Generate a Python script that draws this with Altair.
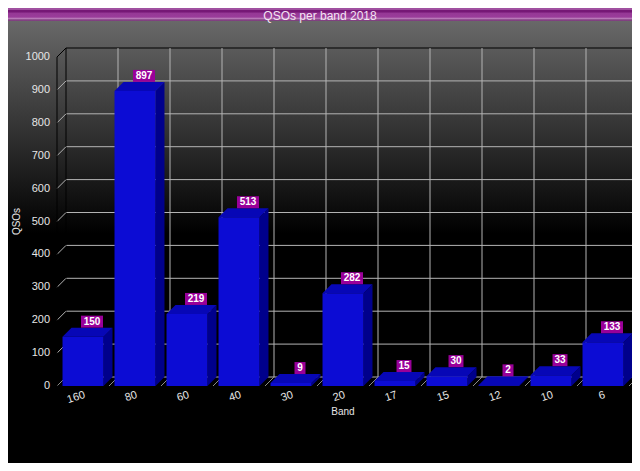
import altair as alt
import pandas as pd

# ---------------- data ----------------
BANDS = ["160", "80", "60", "40", "30", "20", "17", "15", "12", "10", "6"]
QSOS = [150, 897, 219, 513, 9, 282, 15, 30, 2, 33, 133]
Y_TICKS = [0, 100, 200, 300, 400, 500, 600, 700, 800, 900, 1000]
TITLE = "QSOs per band 2018"
X_TITLE = "Band"
Y_TITLE = "QSOs"

# ---------------- layout / style ----------------
W, H = 572, 329            # front plane of the 3D plot
N = len(BANDS)
Y_MAX = 1000
DEPTH = 9                  # px depth of the 3D effect
DX = DEPTH / (W / N)       # depth in x-data units
DY = DEPTH / (H / Y_MAX)   # depth in y-data units
PAD = 0.106                # band padding each side
PAD_L, PAD_T, PAD_R, PAD_B = 49, 49, 3, 77

FRONT = "#0c0cd4"
TOPC = "#0707b6"
SIDE = "#00008c"
LABEL_BG = "#990099"
GRID = "#b4b4b4"
TXT = "#e6e6e6"
FONT = "Liberation Sans"

xs = alt.Scale(domain=[0, N], nice=False, zero=False)
ys = alt.Scale(domain=[0, Y_MAX], nice=False, zero=False)

# ---------------- tables built from the arrays ----------------
rows, side_rows, top_rows = [], [], []
for i, (b, q) in enumerate(zip(BANDS, QSOS)):
    a0, b0 = i + PAD, i + 1 - PAD
    rows.append(dict(band=b, qsos=q, a=a0, b=b0, c=i + 0.5, zero=0,
                     cx=i + 0.5 + DX, ytop=q + DY, nd=str(len(str(q)))))
    side_rows.append(dict(band=b, x=b0, y=q, y2=0))
    side_rows.append(dict(band=b, x=b0 + DX, y=q + DY, y2=DY))
    top_rows.append(dict(band=b, y=q, xa=a0, xb=b0))
    top_rows.append(dict(band=b, y=q + DY, xa=a0 + DX, xb=b0 + DX))
bars = pd.DataFrame(rows)
side = pd.DataFrame(side_rows)
top = pd.DataFrame(top_rows)
ticks = pd.DataFrame({"v": Y_TICKS})
inner_ticks = pd.DataFrame({"v": Y_TICKS[:-1]})
max_tick = pd.DataFrame({"v": [Y_TICKS[-1]]})
bounds = pd.DataFrame({"k": list(range(N + 1)), "zero": 0, "top": Y_MAX})
one = pd.DataFrame({"t": [TITLE], "xt": [X_TITLE], "yt": [Y_TITLE]})


def X(f):
    return alt.X(f, scale=xs, axis=None, stack=None)


def Y(f):
    return alt.Y(f, scale=ys, axis=None, stack=None)


# ---------------- layers ----------------
bg = alt.Chart(one).mark_rect(
    fill=alt.LinearGradient(
        gradient="linear", x1=0, x2=0, y1=0, y2=1,
        stops=[alt.GradientStop(color="#686868", offset=0),
               alt.GradientStop(color="#000000", offset=0.48),
               alt.GradientStop(color="#000000", offset=1)])
).encode(x=alt.value(-PAD_L), x2=alt.value(W + PAD_R),
         y=alt.value(-36), y2=alt.value(H + PAD_B))

titlebar = alt.Chart(one).mark_rect(
    fill=alt.LinearGradient(
        gradient="linear", x1=0, x2=0, y1=0, y2=1,
        stops=[alt.GradientStop(color="#a050a0", offset=0),
               alt.GradientStop(color="#a050a0", offset=0.12),
               alt.GradientStop(color="#761876", offset=0.18),
               alt.GradientStop(color="#761876", offset=0.3),
               alt.GradientStop(color="#963896", offset=0.4),
               alt.GradientStop(color="#9a3c9a", offset=0.7),
               alt.GradientStop(color="#bb7cbb", offset=0.8),
               alt.GradientStop(color="#8a4a8a", offset=0.9),
               alt.GradientStop(color="#7a3a7a", offset=1)])
).encode(x=alt.value(-PAD_L), x2=alt.value(W + PAD_R),
         y=alt.value(-PAD_T), y2=alt.value(-36))

titletext = alt.Chart(one).mark_text(
    align="center", baseline="alphabetic", fontSize=12, color="#f4e4f4", font=FONT
).encode(x=alt.value(263), y=alt.value(-37.5), text="t:N")

hgrid = alt.Chart(inner_ticks).mark_rule(color=GRID, strokeWidth=1, yOffset=-DEPTH).encode(
    x=alt.value(DEPTH), x2=alt.value(W + DEPTH), y=Y("v:Q"))

topline = alt.Chart(max_tick).mark_rule(color="#000000", strokeWidth=1, yOffset=-DEPTH).encode(
    x=alt.value(DEPTH), x2=alt.value(W + DEPTH), y=Y("v:Q"))

vgrid = alt.Chart(bounds).transform_filter("datum.k > 0").mark_rule(
    color=GRID, strokeWidth=1, xOffset=DEPTH, yOffset=-DEPTH, y2Offset=-DEPTH
).encode(x=X("k:Q"), y=Y("top:Q"), y2="zero:Q")

backedge = alt.Chart(bounds).transform_filter("datum.k == 0").mark_rule(
    color="#000000", strokeWidth=1, xOffset=DEPTH, yOffset=-DEPTH, y2Offset=-DEPTH
).encode(x=X("k:Q"), y=Y("top:Q"), y2="zero:Q")

frontedge = alt.Chart(bounds).transform_filter("datum.k == 0").mark_rule(
    color="#000000", strokeWidth=1
).encode(x=X("k:Q"), y=Y("top:Q"), y2="zero:Q")

wall = alt.Chart(inner_ticks).mark_rule(color=GRID, strokeWidth=1, y2Offset=-DEPTH).encode(
    x=alt.value(0), x2=alt.value(DEPTH), y=Y("v:Q"), y2="v:Q")

wall_top = alt.Chart(max_tick).mark_rule(color="#000000", strokeWidth=1, y2Offset=-DEPTH).encode(
    x=alt.value(0), x2=alt.value(DEPTH), y=Y("v:Q"), y2="v:Q")

floor = alt.Chart(bounds).mark_rule(
    color="#8c8c8c", strokeWidth=1, x2Offset=DEPTH, y2Offset=-DEPTH
).encode(x=X("k:Q"), x2="k:Q", y=Y("zero:Q"), y2="zero:Q")

side_l = alt.Chart(side).mark_area(color=SIDE, opacity=1, orient="vertical").encode(
    x=X("x:Q"), y=Y("y:Q"), y2="y2:Q", detail="band:N")

top_l = alt.Chart(top).mark_area(color=TOPC, opacity=1, orient="horizontal").encode(
    y=Y("y:Q"), x=X("xa:Q"), x2="xb:Q", detail="band:N")

front = alt.Chart(bars).mark_rect(color=FRONT, opacity=1).encode(
    x=X("a:Q"), x2="b:Q", y=Y("qsos:Q"), y2="zero:Q")

# axis labels and titles
ylabels = alt.Chart(ticks).mark_text(
    align="right", baseline="middle", fontSize=11, color=TXT, font=FONT, dx=-7
).encode(x=alt.value(0), y=Y("v:Q"), text=alt.Text("v:Q", format="d"))

xlabels = alt.Chart(bars).mark_text(
    align="right", baseline="top", fontSize=11, color=TXT, font=FONT, angle=342
).encode(x=X("c:Q"), y=alt.value(H + 3), text="band:N")

xtitle = alt.Chart(one).mark_text(
    align="center", baseline="middle", fontSize=10, color=TXT, font=FONT
).encode(x=alt.value(W / 2), y=alt.value(H + 26), text="xt:N")

ytitle = alt.Chart(one).mark_text(
    align="center", baseline="middle", fontSize=10, color=TXT, font=FONT, angle=270
).encode(x=alt.value(-40), y=alt.value(H / 2), text="yt:N")

paths = {
    "1": "M-0.5,-0.545L0.5,-0.545L0.5,0.545L-0.5,0.545Z",
    "2": "M-0.68,-0.545L0.68,-0.545L0.68,0.545L-0.68,0.545Z",
    "3": "M-1,-0.545L1,-0.545L1,0.545L-1,0.545Z",
}
boxes = alt.Chart(bars).mark_point(filled=True, opacity=1, strokeWidth=0, yOffset=-6).encode(
    x=X("cx:Q"), y=Y("ytop:Q"),
    shape=alt.Shape("nd:N", scale=alt.Scale(domain=list(paths.keys()),
                                            range=list(paths.values())), legend=None),
    size=alt.value(484),
    color=alt.value(LABEL_BG))

labels = alt.Chart(bars).mark_text(
    yOffset=-6, baseline="middle", align="center", fontSize=10, fontWeight="bold",
    color="#ffffff", font=FONT
).encode(x=X("cx:Q"), y=Y("ytop:Q"), text=alt.Text("qsos:Q", format="d"))

chart = alt.layer(
    bg, titlebar, titletext, hgrid, topline, vgrid, backedge, wall, wall_top, floor,
    frontedge, side_l, top_l, front, ylabels, xlabels, xtitle, ytitle, boxes, labels
).properties(
    width=W, height=H,
    autosize=alt.AutoSizeParams(type="none"),
    padding={"left": PAD_L, "top": PAD_T, "right": PAD_R, "bottom": PAD_B},
).configure(background="#000000", font=FONT).configure_view(stroke=None)

chart.save("out.html", embed_options={"renderer": "svg", "actions": False})
